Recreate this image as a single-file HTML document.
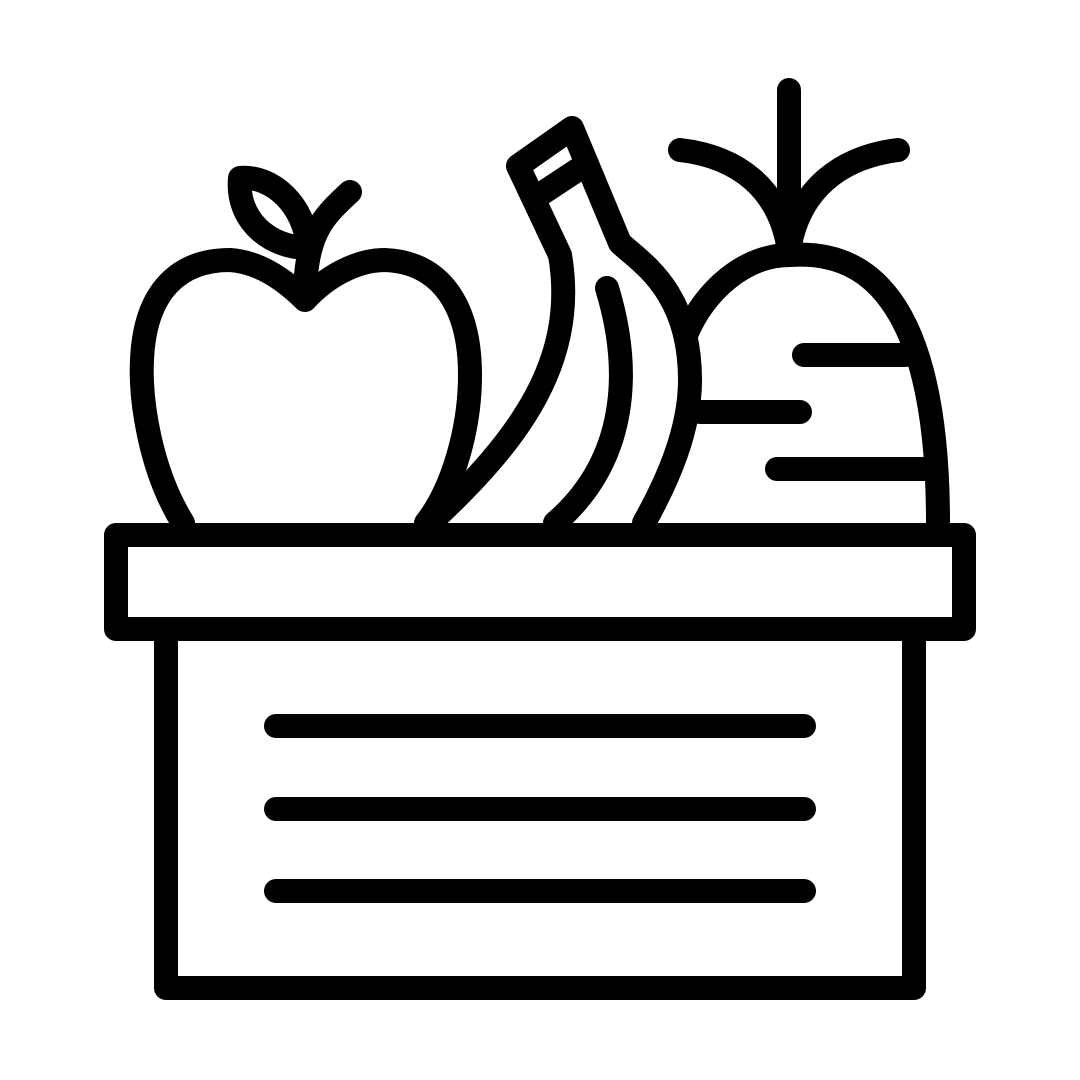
<!DOCTYPE html>
<html><head><meta charset="utf-8"><style>html,body{margin:0;padding:0;background:#fff}svg{display:block}</style></head>
<body>
<svg width="1080" height="1080" viewBox="0 0 1080 1080" xmlns="http://www.w3.org/2000/svg">
<g fill="none" stroke="#000" stroke-width="24" stroke-linecap="round" stroke-linejoin="round">
<path d="M183,523 C150,470 140,400 142,360 C145,290 180,260 230,260 C260,262 285,280 305,300 C325,278 355,260 385,260 C440,262 470,305 470,375 C470,430 452,490 426,523"/>
<path d="M306,275 C310,230 325,215 350,192"/>
<path d="M240,178 C272,175 305,205 308,248 C270,248 236,220 240,178 Z"/>
<path d="M430,523 C520,440 578,360 560,255 L518,166 L572,128 L620,243 C640,262 690,290 690,380 C690,430 668,480 644,523"/>
<path d="M538,196 L582,167"/>
<path d="M607,288 C632,370 628,460 555,523"/>
<path d="M789,90 L789,200"/>
<path d="M680,150 C740,157 778,190 788,245"/>
<path d="M898,150 C840,157 800,190 790,245"/>
<path d="M686,335 C705,290 745,255 790,255 C860,250 938,290 938,523"/>
<path d="M804,355 L905,355 M700,412 L800,412 M777,469 L925,469"/>
<rect x="116" y="535" width="848" height="94" fill="#fff"/>
<path d="M166,629 L166,988 L914,988 L914,629"/>
<path d="M276,726 L804,726 M276,809 L804,809 M276,891 L804,891"/>
</g>
</svg>
</body></html>
